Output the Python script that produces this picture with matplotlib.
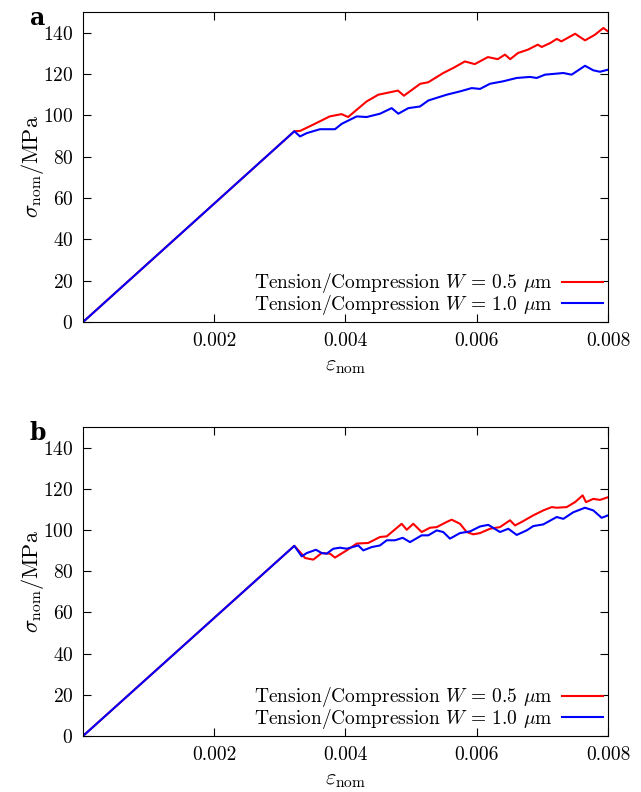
import numpy as np
import matplotlib
matplotlib.use("Agg")
from matplotlib import pyplot as plt

plt.rcParams["font.family"] = ["cmr10", "DejaVu Serif"]
plt.rcParams["mathtext.fontset"] = "cm"
plt.rcParams["axes.formatter.use_mathtext"] = True

# elastic part shared by every curve
peak_strain = 0.00322
peak_stress = 92.3

# panel a
a_red_strain = [0.00331, 0.00350, 0.00376, 0.00394, 0.00404, 0.00432, 0.00450, 0.00480,
                0.00489, 0.00514, 0.00526, 0.00549, 0.00564, 0.00582, 0.00597, 0.00617,
                0.00632, 0.00643, 0.00651, 0.00663, 0.00678, 0.00693, 0.00699, 0.00712,
                0.00722, 0.00729, 0.00750, 0.00754, 0.00765, 0.00780, 0.00793, 0.00800]
a_red_stress = [92.5, 95.4, 99.5, 100.6, 99.2, 106.7, 110.0, 112.0,
                109.5, 115.3, 116.0, 120.5, 122.9, 126.1, 124.8, 128.2,
                127.2, 129.4, 127.2, 130.2, 131.8, 134.2, 133.1, 135.0,
                137.0, 135.8, 139.5, 138.6, 136.3, 139.0, 142.3, 140.6]
a_blue_strain = [0.003307, 0.003409, 0.003611, 0.003840, 0.003942, 0.004171, 0.004323,
                 0.004526, 0.004704, 0.004805, 0.004957, 0.005135, 0.005262, 0.005542,
                 0.005745, 0.005923, 0.006050, 0.006202, 0.006405, 0.006609, 0.006811,
                 0.006914, 0.007040, 0.007218, 0.007319, 0.007446, 0.007650, 0.007776,
                 0.007878, 0.008000]
a_blue_stress = [89.8, 91.4, 93.3, 93.3, 95.9, 99.5, 99.2,
                 100.8, 103.5, 100.8, 103.5, 104.3, 107.2, 110.0,
                 111.6, 113.2, 112.8, 115.3, 116.5, 118.1, 118.6,
                 118.1, 119.7, 120.2, 120.5, 119.7, 124.0, 121.8,
                 121.1, 122.1]

# panel b
b_red_strain = [0.003307, 0.003383, 0.003509, 0.003637, 0.003764, 0.003840, 0.004018,
                0.004171, 0.004347, 0.004526, 0.004628, 0.004856, 0.004933, 0.005033,
                0.005161, 0.005288, 0.005390, 0.005542, 0.005618, 0.005745, 0.005847,
                0.005947, 0.006050, 0.006202, 0.006354, 0.006507, 0.006583, 0.006685,
                0.006862, 0.007014, 0.007142, 0.007218, 0.007370, 0.007497, 0.007614,
                0.007665, 0.007776, 0.007878, 0.008000]
b_red_stress = [89.3, 86.4, 85.6, 88.8, 88.5, 86.6, 90.1,
                93.4, 93.7, 96.6, 96.9, 103.0, 100.1, 103.0,
                99.0, 101.1, 101.4, 103.9, 105.0, 103.0, 99.0,
                97.9, 98.5, 100.6, 101.4, 104.7, 102.2, 103.9,
                107.1, 109.5, 111.1, 110.8, 111.1, 113.5, 116.8,
                113.5, 115.1, 114.6, 115.9]
b_blue_strain = [0.003333, 0.003409, 0.003550, 0.003637, 0.003713, 0.003814, 0.003916,
                 0.004018, 0.004195, 0.004271, 0.004399, 0.004526, 0.004628, 0.004754,
                 0.004872, 0.004983, 0.005161, 0.005262, 0.005390, 0.005490, 0.005592,
                 0.005745, 0.005897, 0.006050, 0.006176, 0.006354, 0.006481, 0.006609,
                 0.006761, 0.006862, 0.007014, 0.007218, 0.007319, 0.007471, 0.007650,
                 0.007776, 0.007904, 0.008000]
b_blue_stress = [87.2, 88.8, 90.4, 88.8, 88.5, 90.9, 91.4,
                 90.9, 92.5, 90.1, 91.7, 92.5, 95.0, 95.0,
                 96.2, 94.1, 97.4, 97.4, 99.8, 99.0, 95.8,
                 98.5, 99.3, 101.7, 102.5, 99.0, 100.6, 97.6,
                 99.8, 101.9, 102.7, 106.3, 105.4, 108.6, 110.8,
                 109.5, 105.9, 107.1]

labels = [r"Tension/Compression $W$ = 0.5 $\mu$m", r"Tension/Compression $W$ = 1.0 $\mu$m"]
colors = ["#ff0000", "#0000ff"]
x_ticks = [0.002, 0.004, 0.006, 0.008]
y_ticks = [0, 20, 40, 60, 80, 100, 120, 140]


def full_curve(strain, stress):
    return [0.0, peak_strain] + list(strain), [0.0, peak_stress] + list(stress)


def draw_panel(ax, curves, letter):
    for (strain, stress), color, label in zip(curves, colors, labels):
        x, y = full_curve(strain, stress)
        ax.plot(x, y, color=color, lw=1.5, label=label)
    ax.set_xlim(0, 0.008)
    ax.set_ylim(0, 150)
    ax.set_xticks(x_ticks)
    ax.set_xticklabels([f"{t:.3f}" for t in x_ticks])
    ax.set_yticks(y_ticks)
    ax.tick_params(direction="in", top=True, right=True, length=6,
                   labelsize=14, pad=7)
    ax.set_xlabel(r"$\varepsilon_{\mathrm{nom}}$", fontsize=16, labelpad=5)
    ax.set_ylabel(r"$\sigma_{\mathrm{nom}}/\mathrm{MPa}$", fontsize=16, labelpad=-2)
    ax.legend(loc="lower right", frameon=False, markerfirst=False, fontsize=14,
              handlelength=2.1, labelspacing=-0.12, borderaxespad=0.05,
              handletextpad=0.5, borderpad=0.2)
    ax.text(-0.086, 0.98, letter, transform=ax.transAxes, fontsize=17,
            fontweight="bold", family="DejaVu Serif", va="center", ha="center")


fig = plt.figure(figsize=(6.41, 7.92), dpi=100)
ax_a = fig.add_axes([0.1295, 0.5934, 0.819, 0.3914])
ax_b = fig.add_axes([0.1295, 0.0707, 0.819, 0.3902])

draw_panel(ax_a, [(a_red_strain, a_red_stress), (a_blue_strain, a_blue_stress)], "a")
draw_panel(ax_b, [(b_red_strain, b_red_stress), (b_blue_strain, b_blue_stress)], "b")

fig.savefig("out.png", dpi=100)
